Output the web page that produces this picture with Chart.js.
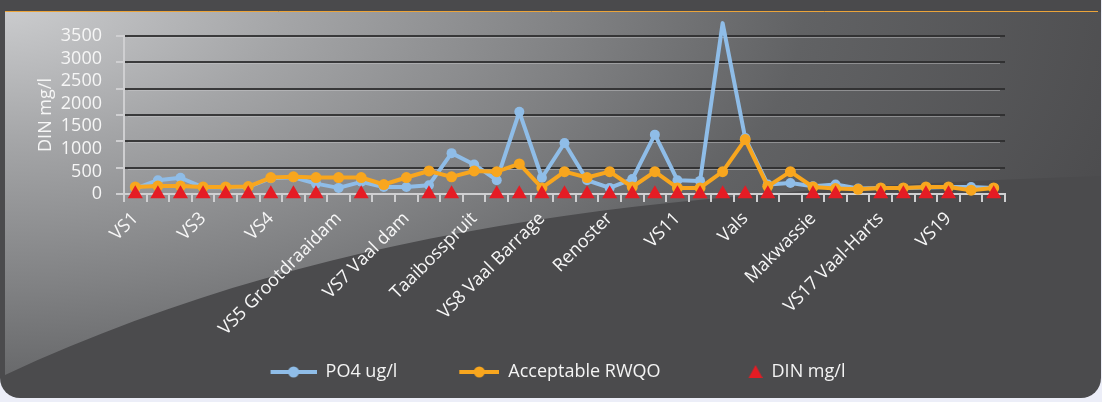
<!DOCTYPE html>
<html>
<head>
<meta charset="utf-8">
<script src="https://cdn.jsdelivr.net/npm/chart.js@4.4.1/dist/chart.umd.min.js"></script>
<style>
  html, body { margin: 0; padding: 0; background: #eceef8; }
  #wrap { width: 1102px; height: 402px; }
</style>
</head>
<body>
<div id="wrap"><canvas id="chart" width="1102" height="402"></canvas></div>
<script>
// station names, one label every third sample
const stations = ['VS1', 'VS3', 'VS4', 'VS5 Grootdraaidam', 'VS7 Vaal dam', 'Taaibosspruit',
    'VS8 Vaal Barrage', 'Renoster', 'VS11', 'Vals', 'Makwassie', 'VS17 Vaal-Harts', 'VS19'];

const po4 = [120, 305, 360, 150, 150, 155, 350, 370, 230, 135, 270, 155, 155,
    195, 905, 655, 305, 1820, 360, 1130, 305, 135, 330, 1315, 305, 290,
    3785, 1240, 210, 245, 170, 210, 120, 135, 135, 145, 155, 155, 135];

const rwqo = [155, 175, 175, 155, 155, 165, 365, 380, 365, 365, 365, 210, 365,
    510, 380, 510, 495, 665, 135, 495, 365, 495, 155, 495, 135, 135,
    495, 1205, 170, 495, 155, 120, 105, 135, 135, 155, 155, 85, 135];

const din = [2, 2, 2, 2, 2, 2, 2, 2, 2, null, 2, null, null,
    2, 2, null, 2, 2, 2, 2, 2, 2, 2, 2, 2, 2,
    2, 2, 2, null, 2, 2, null, 2, 2, 2, 2, null, 2];

const yTicks = [0, 500, 1000, 1500, 2000, 2500, 3000, 3500];

const labels = po4.map((v, i) => (i % 3 === 0 ? stations[i / 3] : ''));

const BLUE = '#8fbde8';
const ORANGE = '#f8a61e';
const RED = '#e51c24';
const FONT = "'Open Sans', sans-serif";

// legend icons (line + marker like the original)
function makeIcon(kind) {
    const c = document.createElement('canvas');
    c.width = 92; c.height = 14;
    const g = c.getContext('2d');
    if (kind === 'tri') {
        g.fillStyle = RED;
        g.beginPath();
        g.moveTo(85, 0); g.lineTo(92, 13); g.lineTo(78, 13);
        g.closePath(); g.fill();
    } else {
        const col = kind === 'blue' ? BLUE : ORANGE;
        const x0 = kind === 'blue' ? 46 : 52;
        g.strokeStyle = col; g.lineWidth = 4;
        g.beginPath(); g.moveTo(x0, 7); g.lineTo(92, 7); g.stroke();
        g.fillStyle = col;
        g.beginPath(); g.arc((x0 + 92) / 2, 7, 5.5, 0, Math.PI * 2); g.fill();
    }
    return c;
}
const icons = [makeIcon('blue'), makeIcon('orange'), makeIcon('tri')];

const panelBg = {
    id: 'panelBg',
    beforeDraw(chart) {
        const c = chart.ctx, w = chart.width, h = chart.height;
        c.save();
        c.fillStyle = '#eceef8';
        c.fillRect(0, 0, w, h);
        c.beginPath();
        c.roundRect(0, -30, w - 1, h + 26, 20);
        c.fillStyle = '#4b4b4d';
        c.fill();
        c.clip();
        // light sweep above the curve
        c.beginPath();
        c.moveTo(5, 12);
        c.lineTo(w, 12);
        c.lineTo(w, 176);
        c.bezierCurveTo(700, 190, 350, 215, 5, 375);
        c.closePath();
        c.save();
        c.scale(1, 0.5);
        const grd = c.createRadialGradient(0, 0, 0, 0, 0, 1150);
        grd.addColorStop(0, '#cdced0');
        grd.addColorStop(0.25, '#a4a5a7');
        grd.addColorStop(0.5, '#808183');
        grd.addColorStop(0.7, '#616264');
        grd.addColorStop(1, '#4d4d4f');
        c.fillStyle = grd;
        c.fill();
        c.restore();
        // top band and orange rule
        c.fillStyle = '#4a4a4c';
        c.fillRect(0, 0, w, 11);
        c.strokeStyle = '#eba43a';
        c.lineWidth = 1;
        c.beginPath(); c.moveTo(5, 11.5); c.lineTo(1098, 11.5); c.stroke();
        c.restore();
    },
    beforeDatasetsDraw(chart) {
        // light edge under each grid line
        const s = chart.scales.yGrid, a = chart.chartArea, c = chart.ctx;
        c.save();
        c.strokeStyle = 'rgba(205,205,207,0.45)';
        c.lineWidth = 1;
        s.ticks.forEach(t => {
            if (t.value === 0) return;
            const y = Math.round(s.getPixelForValue(t.value)) + 1.5;
            c.beginPath(); c.moveTo(a.left + 4, y); c.lineTo(a.right - 5, y); c.stroke();
        });
        c.restore();
    }
};

Chart.defaults.font.family = FONT;
Chart.defaults.color = '#f4f4f4';

const ctx = document.getElementById('chart').getContext('2d');
const chart = new Chart(ctx, {
    type: 'line',
    data: {
        labels: labels,
        datasets: [{
            label: 'PO4 ug/l',
            data: po4,
            borderColor: BLUE,
            backgroundColor: BLUE,
            borderWidth: 4,
            borderJoinStyle: 'round',
            pointRadius: 5,
            pointBorderWidth: 0,
            tension: 0,
            clip: false,
            order: 3
        }, {
            label: 'Acceptable RWQO',
            data: rwqo,
            borderColor: ORANGE,
            backgroundColor: ORANGE,
            borderWidth: 4,
            borderJoinStyle: 'round',
            pointRadius: 5.5,
            pointBorderWidth: 0,
            tension: 0,
            clip: false,
            order: 2
        }, {
            label: 'DIN mg/l',
            data: din,
            showLine: false,
            pointStyle: 'triangle',
            pointRadius: 8.7,
            pointBorderWidth: 0,
            backgroundColor: RED,
            borderColor: RED,
            clip: false,
            order: 1
        }]
    },
    options: {
        responsive: false,
        animation: false,
        devicePixelRatio: 1,
        layout: { padding: { left: 4, right: 36, top: 36, bottom: 11 } },
        plugins: {
            tooltip: { enabled: false },
            legend: {
                position: 'bottom',
                labels: {
                    color: '#f4f4f4',
                    font: { size: 18, family: FONT },
                    usePointStyle: true,
                    pointStyleWidth: 92,
                    padding: 10,
                    sort: (a, b) => a.datasetIndex - b.datasetIndex,
                    generateLabels(chart) {
                        const items = Chart.defaults.plugins.legend.labels.generateLabels(chart);
                        items.forEach(it => { it.pointStyle = icons[it.datasetIndex]; });
                        return items;
                    }
                }
            }
        },
        scales: {
            x: {
                offset: true,
                grid: {
                    offset: true,
                    drawOnChartArea: false,
                    drawTicks: true,
                    tickLength: 8,
                    tickColor: '#cfcfd1',
                    lineWidth: 2
                },
                border: { color: '#cfcfd1', width: 2 },
                ticks: {
                    autoSkip: false,
                    minRotation: 45,
                    maxRotation: 45,
                    padding: 6,
                    color: '#f6f6f6',
                    font: { size: 18, family: FONT }
                },
                afterFit(s) { s.height = 159; }
            },
            y: {
                position: 'left',
                weight: 1,
                min: 0,
                max: yTicks[yTicks.length - 1],
                grid: { display: false },
                border: { display: false },
                afterBuildTicks(s) { s.ticks = yTicks.map(v => ({ value: v })); },
                ticks: {
                    autoSkip: false,
                    padding: 6,
                    color: '#f6f6f6',
                    font: { size: 18, family: FONT },
                    callback: v => String(v)
                },
                title: {
                    display: true,
                    text: 'DIN mg/l',
                    color: '#f6f6f6',
                    font: { size: 18, family: FONT },
                    padding: { top: 31, bottom: 0 }
                },
                afterFit(s) { s.width = 112; }
            },
            yGrid: {
                position: 'left',
                weight: 0,
                min: 0,
                max: 6,
                ticks: { display: false, stepSize: 1 },
                grid: {
                    color: ctx => (ctx.tick && ctx.tick.value === 0 ? 'rgba(0,0,0,0)' : 'rgba(45,45,47,0.9)'),
                    lineWidth: 2,
                    tickColor: '#cfcfd1',
                    tickLength: 8
                },
                border: { color: '#cfcfd1', width: 2 },
                afterFit(s) { s.width = 8; }
            },
            // empty right-hand box keeping the plot clear of the right margin
            spacer: {
                position: 'right',
                min: 0,
                max: 1,
                grid: { display: false },
                border: { display: false },
                ticks: { display: false },
                afterFit(s) { s.width = 61; }
            }
        }
    },
    plugins: [panelBg]
});
</script>
</body>
</html>
